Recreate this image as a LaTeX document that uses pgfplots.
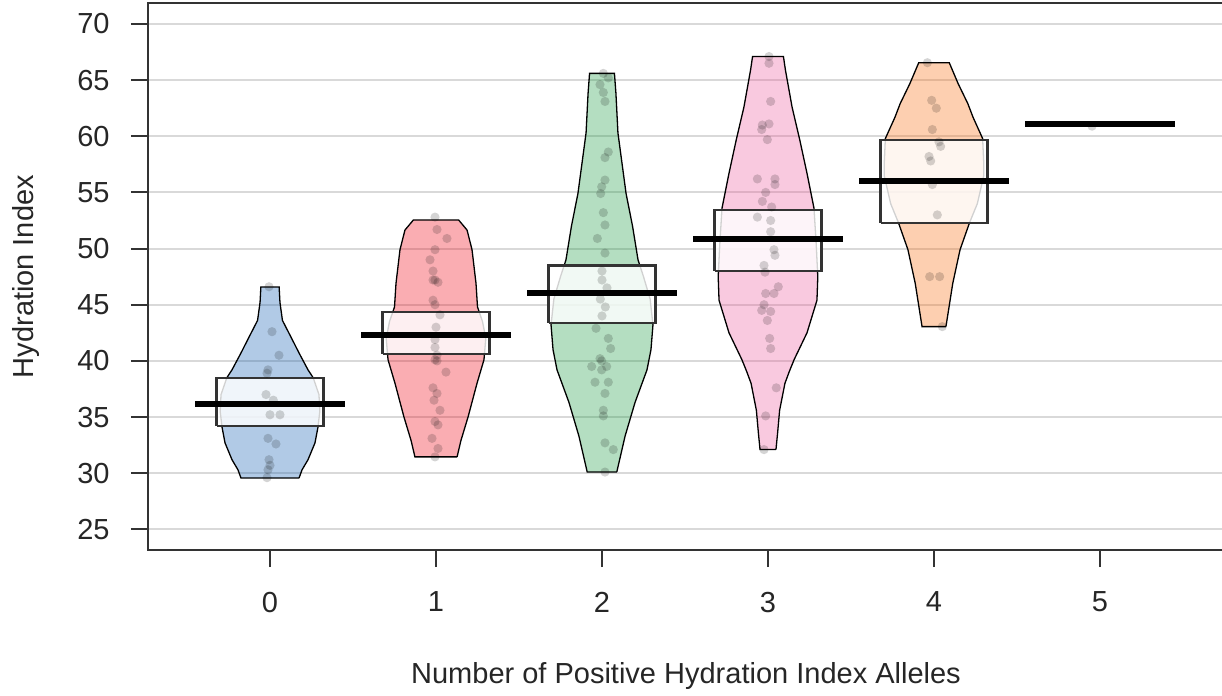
\documentclass[border=0pt]{standalone}
\usepackage{fontspec}
\setmainfont{Liberation Sans}
\usepackage{pgfplots}
\pgfplotsset{compat=1.18}
\definecolor{cA}{HTML}{0C5BB0}
\definecolor{cB}{HTML}{EE0011}
\definecolor{cC}{HTML}{15983D}
\definecolor{cD}{HTML}{EC579A}
\definecolor{cE}{HTML}{FA6B09}
\pgfplotsset{
  bean/.style={fill=#1, fill opacity=0.32, draw=black, draw opacity=1, line width=0.65pt},
  pts/.style={only marks, mark=*, mark size=2.3pt, mark options={fill=black, fill opacity=0.17, draw opacity=0}},
  hdi/.style={fill=white, fill opacity=0.82, draw=black!80, draw opacity=1, line width=1.1pt},
  avg/.style={black, line width=3pt},
}
\begin{document}
\begin{tikzpicture}
\begin{axis}[
  scale only axis, width=538pt, height=273.35pt,
  xmin=-0.735, xmax=5.747, ymin=23.16, ymax=71.84,
  xtick={0,1,2,3,4,5}, ytick={25,30,...,70},
  xtick pos=bottom, ytick pos=left,
  tick align=outside, major tick length=8.5pt,
  ymajorgrids, grid style={line width=1pt, color=black!15},
  axis line style={line width=1pt, color=black!80},
  tick style={line width=1pt, color=black!80},
  /pgf/number format/assume math mode=true,
  every tick label/.append style={font=\fontsize{14.5}{17}\selectfont, text=black!85},
  yticklabel style={anchor=east, inner sep=0pt, xshift=-10.5pt},
  xticklabel style={anchor=north, inner sep=0pt, yshift=-12.3pt},
  label style={font=\fontsize{14.5}{17}\selectfont, text=black!85},
  xlabel={Number of Positive Hydration Index Alleles},
  ylabel={Hydration Index},
  xlabel style={at={(axis description cs:0.5,-0.231)}, anchor=center},
  ylabel style={at={(axis description cs:-0.1138,0.5)}, anchor=center},
]
% ---------- beans ----------
\addplot[bean=cA] table[x expr=\thisrow{w}+0, y=v] {
w v
0.175 29.57
0.193 30.3
0.229 31.2
0.271 32.7
0.289 34.1
0.300 35.5
0.295 37.0
0.260 38.5
0.229 39.2
0.175 40.7
0.127 42.1
0.075 43.6
0.060 45.2
0.055 46.58
-0.055 46.58
-0.060 45.2
-0.075 43.6
-0.127 42.1
-0.175 40.7
-0.229 39.2
-0.260 38.5
-0.295 37.0
-0.300 35.5
-0.289 34.1
-0.271 32.7
-0.229 31.2
-0.193 30.3
-0.175 29.57
0.175 29.57
};
\addplot[bean=cB] table[x expr=\thisrow{w}+1, y=v] {
w v
0.127 31.45
0.150 32.9
0.193 35.0
0.247 38.0
0.289 40.1
0.300 42.0
0.280 43.5
0.250 44.8
0.241 46.9
0.217 49.9
0.187 51.65
0.136 52.55
-0.136 52.55
-0.187 51.65
-0.217 49.9
-0.241 46.9
-0.250 44.8
-0.280 43.5
-0.300 42.0
-0.289 40.1
-0.247 38.0
-0.193 35.0
-0.150 32.9
-0.127 31.45
0.127 31.45
};
\addplot[bean=cC] table[x expr=\thisrow{w}+2, y=v] {
w v
0.089 30.1
0.139 33.3
0.199 36.3
0.271 39.2
0.295 41.0
0.307 43.2
0.290 45.5
0.250 47.5
0.217 49.0
0.184 52.0
0.145 54.9
0.096 60.3
0.084 63.8
0.075 65.6
-0.075 65.6
-0.084 63.8
-0.096 60.3
-0.145 54.9
-0.184 52.0
-0.217 49.0
-0.250 47.5
-0.290 45.5
-0.307 43.2
-0.295 41.0
-0.271 39.2
-0.199 36.3
-0.139 33.3
-0.089 30.1
0.089 30.1
};
\addplot[bean=cD] table[x expr=\thisrow{w}+3, y=v] {
w v
0.048 32.1
0.058 33.6
0.070 35.6
0.102 38.0
0.127 39.0
0.157 40.1
0.235 42.5
0.295 45.4
0.300 47.5
0.290 50.5
0.277 53.6
0.235 56.7
0.191 59.7
0.145 62.6
0.105 65.9
0.093 67.1
-0.093 67.1
-0.105 65.9
-0.145 62.6
-0.191 59.7
-0.235 56.7
-0.277 53.6
-0.290 50.5
-0.300 47.5
-0.295 45.4
-0.235 42.5
-0.157 40.1
-0.127 39.0
-0.102 38.0
-0.070 35.6
-0.058 33.6
-0.048 32.1
0.048 32.1
};
\addplot[bean=cE] table[x expr=\thisrow{w}+4, y=v] {
w v
0.072 43.05
0.113 46.9
0.157 49.9
0.214 52.3
0.261 54.0
0.300 56.5
0.300 57.5
0.293 59.8
0.235 61.7
0.204 62.9
0.145 64.7
0.092 66.55
-0.092 66.55
-0.145 64.7
-0.204 62.9
-0.235 61.7
-0.293 59.8
-0.300 57.5
-0.300 56.5
-0.261 54.0
-0.214 52.3
-0.157 49.9
-0.113 46.9
-0.072 43.05
0.072 43.05
};
% ---------- points ----------
\addplot[pts] coordinates {
(-0.006,46.6) (0.012,42.6) (0.054,40.5) (-0.012,39.2) (-0.018,38.9) (-0.024,37.0)
(0.02,36.5) (0.0,35.2) (0.06,35.2) (-0.012,33.1) (0.036,32.6) (-0.006,31.2)
(0.0,30.7) (-0.012,30.3) (-0.018,29.6)
};
\addplot[pts] coordinates {
(0.994,52.8) (1.006,51.7) (1.066,50.9) (0.994,49.9) (0.964,49.0) (0.982,48.0)
(0.994,47.2) (0.982,47.2) (1.012,47.0) (0.982,45.4) (0.994,45.0) (1.024,44.1)
(1.0,43.0) (0.994,41.9) (0.994,41.2) (1.006,40.5) (0.994,40.1) (1.006,40.0)
(1.06,39.0) (0.982,37.6) (1.006,37.1) (0.988,36.5) (1.024,35.6) (0.994,34.6)
(1.012,34.3) (0.976,33.1) (1.012,32.2) (0.994,31.45)
};
\addplot[pts] coordinates {
(2.008,65.6) (2.038,65.2) (1.988,64.6) (2.008,63.9) (2.018,63.1) (2.038,58.6)
(2.018,58.1) (2.018,56.1) (1.998,55.5) (1.992,54.9) (2.008,53.2) (2.018,52.1)
(1.972,50.9) (2.018,49.6) (2.0,48.0) (2.0,47.2) (2.03,46.5) (1.99,45.5)
(2.02,44.8) (2.0,44.0) (1.964,42.9) (2.038,42.0) (2.052,41.1) (1.988,40.2)
(1.998,40.0) (1.938,39.5) (2.028,39.5) (1.998,39.2) (1.958,38.1) (2.038,38.1)
(2.018,37.1) (2.008,35.6) (2.008,35.1) (2.018,32.7) (2.068,32.1) (2.018,30.1)
};
\addplot[pts] coordinates {
(3.006,67.1) (3.006,66.5) (3.016,63.1) (2.966,61.0) (3.006,61.1) (2.962,60.6)
(2.996,59.7) (2.936,56.2) (3.042,56.2) (3.042,55.7) (2.986,55.0) (2.966,54.2)
(3.022,53.7) (2.936,52.8) (3.016,52.5) (3.016,51.5) (3.036,49.9) (3.042,49.4)
(2.976,48.5) (2.982,47.9) (3.062,46.6) (2.986,46.0) (3.036,46.0) (2.976,45.0)
(2.962,44.5) (3.016,44.4) (2.996,43.6) (3.01,42.0) (3.016,41.1) (3.05,37.6)
(2.986,35.1) (2.976,32.1)
};
\addplot[pts] coordinates {
(3.96,66.55) (3.986,63.2) (4.014,62.5) (3.99,60.6) (4.03,59.5) (4.04,59.1)
(3.97,58.2) (3.98,57.8) (3.99,55.7) (4.02,53.0) (3.974,47.5) (4.034,47.5)
(4.05,43.05)
};
\addplot[pts] coordinates {(4.952,60.9)};
% ---------- HDI boxes ----------
\addplot[hdi] coordinates {(-0.322,34.2) (0.322,34.2) (0.322,38.48) (-0.322,38.48) (-0.322,34.2)};
\addplot[hdi] coordinates {(0.678,40.6) (1.322,40.6) (1.322,44.35) (0.678,44.35) (0.678,40.6)};
\addplot[hdi] coordinates {(1.678,43.4) (2.322,43.4) (2.322,48.5) (1.678,48.5) (1.678,43.4)};
\addplot[hdi] coordinates {(2.678,48.0) (3.322,48.0) (3.322,53.4) (2.678,53.4) (2.678,48.0)};
\addplot[hdi] coordinates {(3.678,52.3) (4.322,52.3) (4.322,59.65) (3.678,59.65) (3.678,52.3)};
% ---------- averages ----------
\addplot[avg] coordinates {(-0.449,36.16) (0.449,36.16)};
\addplot[avg] coordinates {(0.551,42.3) (1.449,42.3)};
\addplot[avg] coordinates {(1.551,46.0) (2.449,46.0)};
\addplot[avg] coordinates {(2.551,50.85) (3.449,50.85)};
\addplot[avg] coordinates {(3.551,56.05) (4.449,56.05)};
\addplot[avg] coordinates {(4.551,61.1) (5.449,61.1)};
\end{axis}
\pgfresetboundingbox
\path[use as bounding box] (current axis.south west) ++(-74pt,-73pt) rectangle ++(611pt,348pt);
\end{tikzpicture}
\end{document}
